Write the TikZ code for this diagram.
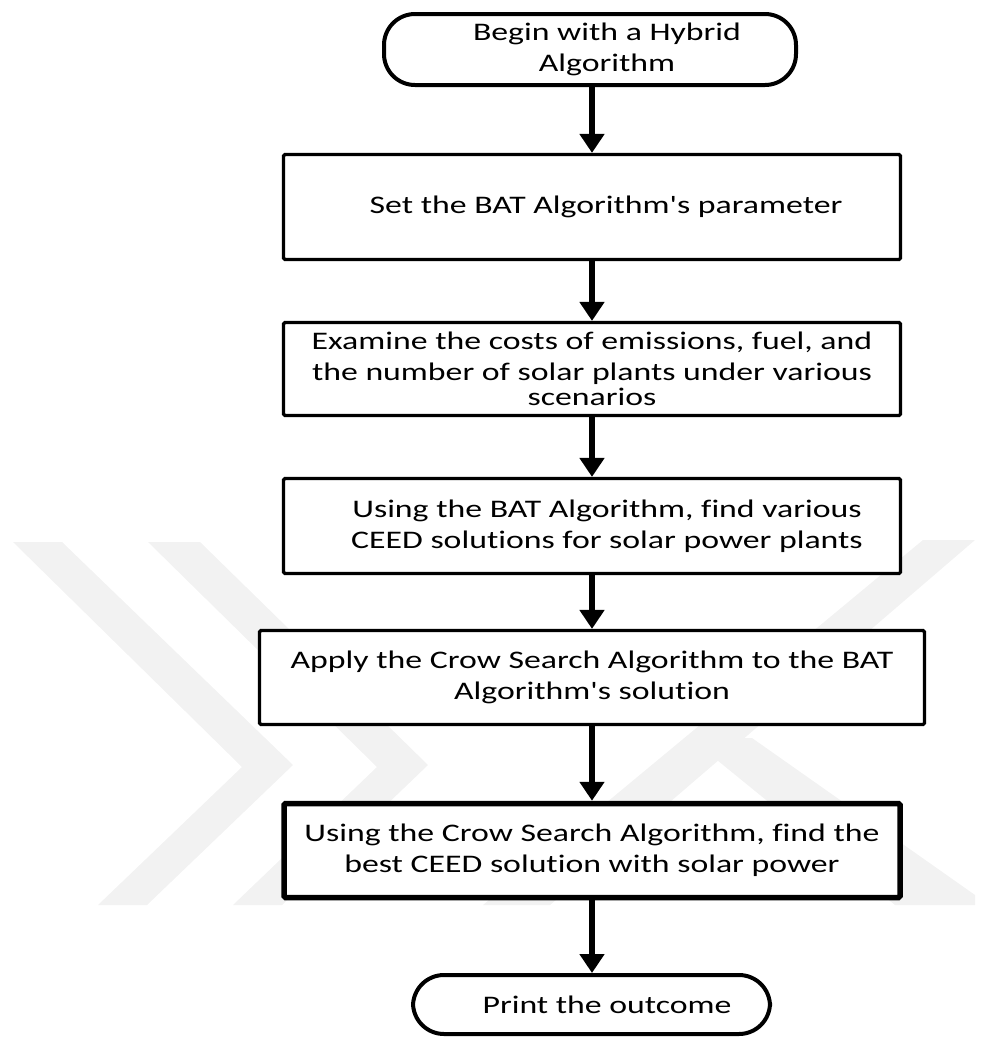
\documentclass[tikz,border=0pt]{standalone}
\usepackage{fontspec}
\setmainfont{Carlito}[FakeStretch=1.335,Ligatures={TeXOff,NoCommon}]
\usetikzlibrary{arrows.meta}
\begin{document}
\begin{tikzpicture}[x=1pt,y=-1pt,
  txt/.style={font=\fontsize{25.3}{30.8}\selectfont, align=center, inner sep=0pt},
  box/.style={txt, draw, fill=white, line width=3.2pt, rounded corners=1.5pt, minimum width=617pt},
  term/.style={txt, draw, fill=white, line width=4pt, rounded corners=31pt},
  flow/.style={line width=5.5pt, -{Triangle[width=24pt,length=19pt]}},
  wm/.style={fill=black!5, draw=none}]
\useasboundingbox (0,0) rectangle (981,1039);
% faint watermark
\fill[wm] (13,542) -- (62,542) -- (293,765) -- (147,905) -- (98,905) -- (242,767) -- cycle;
\fill[wm] (148,542) -- (200,542) -- (428,765) -- (282,905) -- (233,905) -- (377,767) -- cycle;
\fill[wm] (923,540) -- (975,540) -- (550,905) -- (483,905) -- cycle;
\fill[wm] (690,738) -- (752,738) -- (975,895) -- (975,905) -- (895,905) -- cycle;
% nodes
\node[term, minimum width=412pt, minimum height=71pt] (start) at (590,49.5)
  {\hspace*{34pt}Begin with a Hybrid\\\hspace*{34pt}Algorithm};
\node[box, minimum height=105pt] (b1) at (592,207)
  {\hspace*{28pt}Set the BAT Algorithm's parameter};
\node[box, minimum height=93pt] (b2) at (592,369)
  {Examine the costs of emissions, fuel, and\\the number of solar plants under various\\[-6pt]scenarios};
\node[box, minimum height=95pt] (b3) at (592,526)
  {\hspace*{30pt}Using the BAT Algorithm, find various\\\hspace*{30pt}CEED solutions for solar power plants};
\node[box, minimum width=665pt, minimum height=94pt] (b4) at (592,677.5)
  {Apply the Crow Search Algorithm to the BAT\\Algorithm's solution};
\node[box, line width=5.5pt, minimum width=616pt, minimum height=94pt] (b5) at (592,850.5)
  {Using the Crow Search Algorithm, find the\\best CEED solution with solar power};
\node[term, minimum width=357pt, minimum height=59pt] (end) at (591.5,1004.5)
  {\hspace*{31pt}Print the outcome};
% connectors
\draw[flow] (start.south -| b1.north) -- (b1.north);
\draw[flow] (b1.south) -- (b2.north);
\draw[flow] (b2.south) -- (b3.north);
\draw[flow] (b3.south) -- (b4.north);
\draw[flow] (b4.south) -- (b5.north);
\draw[flow] (b5.south) -- (b5.south |- end.north);
\end{tikzpicture}
\end{document}
